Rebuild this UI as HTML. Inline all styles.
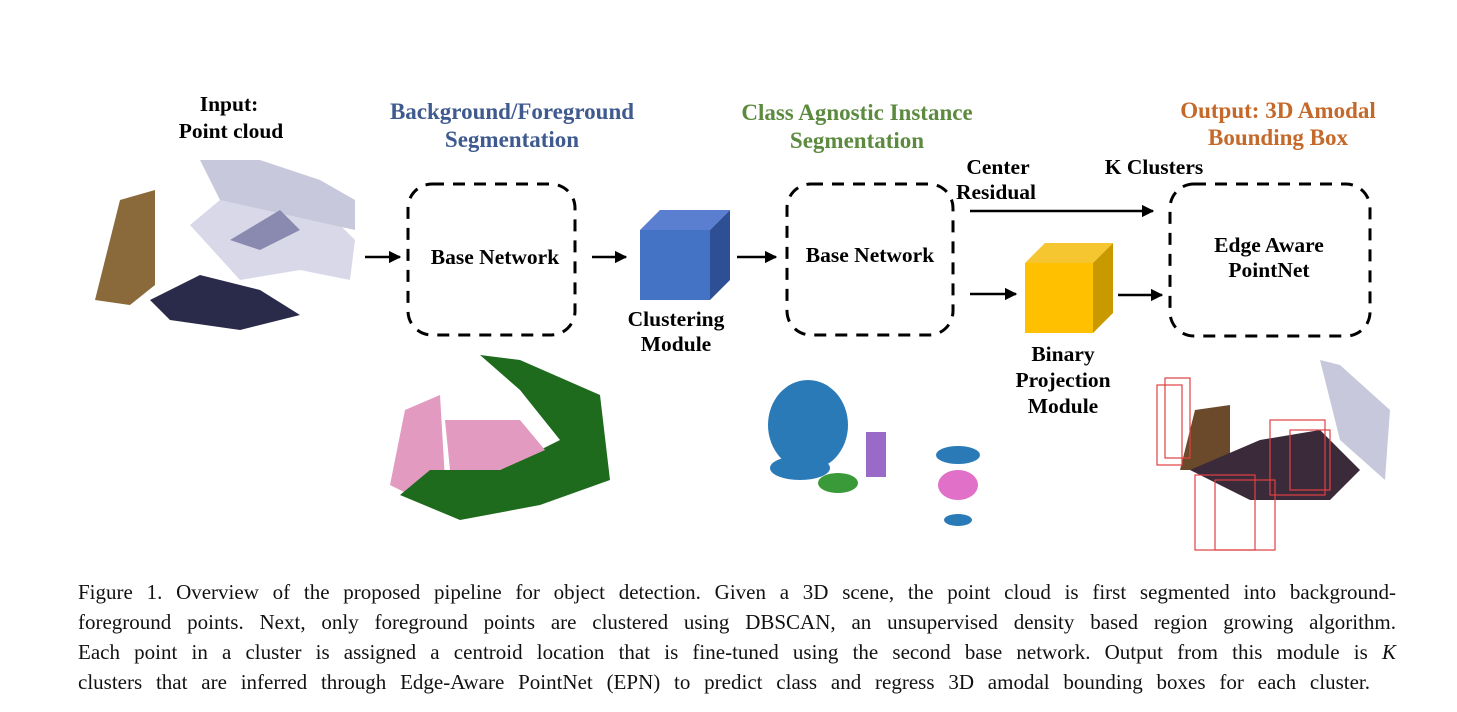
<!DOCTYPE html>
<html><head><meta charset="utf-8"><style>
body{margin:0;background:#fff;width:1457px;height:712px;overflow:hidden;position:relative;font-family:"Liberation Serif",serif}
.cap{position:absolute;left:78px;width:1318px;font-size:21px;line-height:30px;top:577px;color:#111;word-spacing:-0.5px}
.cap span{display:block;text-align:justify;text-align-last:justify;white-space:nowrap}
</style></head><body>
<svg width="1457" height="712" style="position:absolute;left:0;top:0" font-family="Liberation Serif" font-weight="bold">
<defs><marker id="a" markerWidth="5" markerHeight="5" refX="4.5" refY="2.5" orient="auto"><path d="M0,0 L5,2.5 L0,5 z" fill="#000"/></marker></defs>
<g font-size="21.5" text-anchor="middle">
<text x="229" y="111">Input:</text><text x="231" y="138">Point cloud</text>
<g font-size="23">
<text x="512" y="119" fill="#3f5a8f">Background/Foreground</text><text x="512" y="147" fill="#3f5a8f">Segmentation</text>
<text x="857" y="120" fill="#5c8a3f">Class Agnostic Instance</text><text x="857" y="148" fill="#5c8a3f">Segmentation</text>
<text x="1278" y="118" fill="#c5692a">Output: 3D Amodal</text><text x="1278" y="145" fill="#c5692a">Bounding Box</text>
</g>
<text x="998" y="174">Center</text><text x="996" y="199">Residual</text>
<text x="1154" y="174">K Clusters</text>
<text x="495" y="264">Base Network</text><text x="870" y="262">Base Network</text>
<text x="1269" y="252">Edge Aware</text><text x="1269" y="277">PointNet</text>
<text x="676" y="326">Clustering</text><text x="676" y="351">Module</text>
<text x="1063" y="361">Binary</text><text x="1063" y="387">Projection</text><text x="1063" y="413">Module</text>
</g>
<g fill="none" stroke="#000" stroke-width="3" stroke-dasharray="12,9">
<rect x="408" y="184" width="167" height="151" rx="24"/>
<rect x="787" y="184" width="166" height="151" rx="24"/>
<rect x="1170" y="184" width="200" height="152" rx="24"/>
</g>
<g stroke="#000" stroke-width="2.5" marker-end="url(#a)">
<line x1="365" y1="257" x2="400" y2="257"/><line x1="592" y1="257" x2="626" y2="257"/>
<line x1="737" y1="257" x2="776" y2="257"/><line x1="970" y1="211" x2="1153" y2="211"/>
<line x1="970" y1="294" x2="1016" y2="294"/><line x1="1118" y1="295" x2="1162" y2="295"/>
</g>
<polygon points="640,230 660,210 730,210 710,230" fill="#5a7fd0"/><polygon points="710,230 730,210 730,280 710,300" fill="#2f4f95"/><rect x="640" y="230" width="70" height="70" fill="#4472c4"/>
<polygon points="1025,263 1045,243 1113,243 1093,263" fill="#f5c630"/><polygon points="1093,263 1113,243 1113,313 1093,333" fill="#c99a00"/><rect x="1025" y="263" width="68" height="70" fill="#ffc000"/>
<polygon points="95,300 120,200 155,190 155,285 130,305" fill="#8a6a3a"/>
<polygon points="150,300 200,275 260,290 300,315 240,330 170,320" fill="#2a2a4a"/>
<polygon points="190,225 220,200 320,205 355,240 350,280 300,270 240,280" fill="#d8d8e8"/>
<polygon points="200,160 260,160 320,180 355,200 355,230 220,200" fill="#c8c8dc"/>
<polygon points="230,240 280,210 300,230 260,250" fill="#8a8ab0"/>
<polygon points="405,410 440,395 445,480 410,495 390,485" fill="#e39ac0"/>
<polygon points="480,355 520,360 600,395 610,480 540,505 460,520 400,495 430,470 500,470 560,440 520,390" fill="#1e6b1e"/>
<polygon points="445,420 520,420 545,450 500,470 450,470" fill="#e39ac0"/>
<ellipse cx="808" cy="425" rx="40" ry="45" fill="#2a7ab8"/>
<ellipse cx="800" cy="468" rx="30" ry="12" fill="#2a7ab8"/>
<ellipse cx="838" cy="483" rx="20" ry="10" fill="#3a9a3a"/>
<rect x="866" y="432" width="20" height="45" fill="#9a6ac8"/>
<ellipse cx="958" cy="455" rx="22" ry="9" fill="#2a7ab8"/>
<ellipse cx="958" cy="485" rx="20" ry="15" fill="#e070c8"/>
<ellipse cx="958" cy="520" rx="14" ry="6" fill="#2a7ab8"/>
<polygon points="1180,470 1195,410 1230,405 1230,470" fill="#6a4a2a"/>
<polygon points="1190,470 1260,440 1320,430 1360,470 1330,500 1250,500" fill="#3a2a3a"/>
<polygon points="1320,360 1340,365 1390,410 1385,480 1340,440" fill="#c8c8dc"/>
<g fill="none" stroke="#e04040" stroke-width="1.2">
<rect x="1157" y="385" width="25" height="80"/><rect x="1165" y="378" width="25" height="80"/>
<rect x="1195" y="475" width="60" height="75"/><rect x="1215" y="480" width="60" height="70"/>
<rect x="1270" y="420" width="55" height="75"/><rect x="1290" y="430" width="40" height="60"/>
</g>
</svg>
<div class="cap"><span>Figure 1. Overview of the proposed pipeline for object detection. Given a 3D scene, the point cloud is first segmented into background-</span><span>foreground points. Next, only foreground points are clustered using DBSCAN, an unsupervised density based region growing algorithm.</span><span>Each point in a cluster is assigned a centroid location that is fine-tuned using the second base network. Output from this module is <i>K</i></span><span style="width:1292px">clusters that are inferred through Edge-Aware PointNet (EPN) to predict class and regress 3D amodal bounding boxes for each cluster.</span></div>
</body></html>
